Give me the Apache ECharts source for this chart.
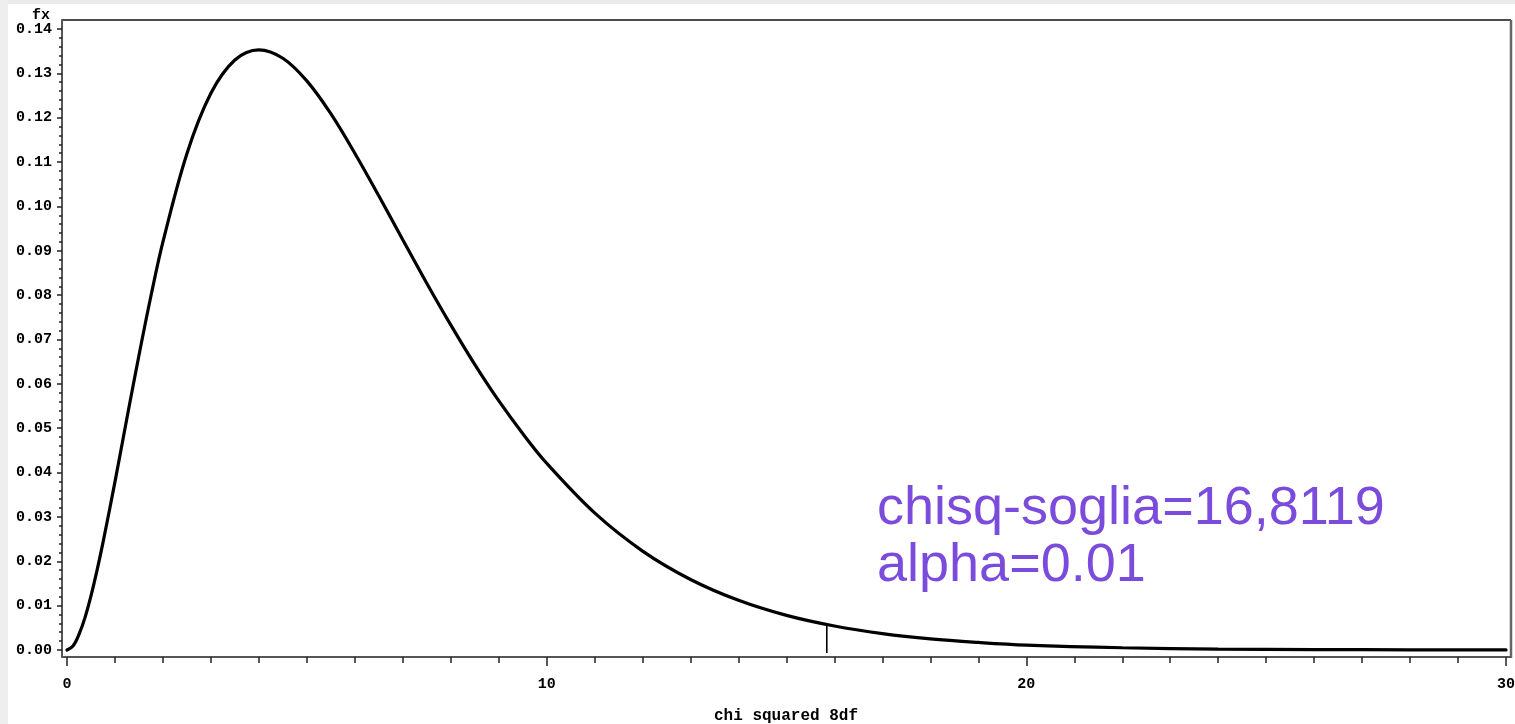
<!DOCTYPE html>
<html>
<head>
<meta charset="utf-8">
<script src="https://cdn.jsdelivr.net/npm/echarts@6/dist/echarts.min.js"></script>
<style>
html,body{margin:0;padding:0;background:#fff;}
#c{width:1515px;height:724px;}
</style>
</head>
<body>
<div id="c"></div>
<script>
// chi-square density curve
var xValues = [0, 0.125, 0.25, 0.375, 0.5, 0.625, 0.75, 1, 1.25, 1.5, 1.75, 2, 2.5, 3, 3.5, 4, 4.5, 5, 5.5, 6, 6.5, 7, 7.5, 8, 8.5, 9, 9.5, 10, 11, 12, 13, 14, 15, 16, 17, 18, 19, 20, 22, 24, 26, 28, 30];
var fxValues = [0, 0.0009, 0.0035, 0.0073, 0.0122, 0.0179, 0.0242, 0.0379, 0.0523, 0.0664, 0.0798, 0.0920, 0.1119, 0.1255, 0.1330, 0.1353, 0.1334, 0.1283, 0.1209, 0.1120, 0.1024, 0.0925, 0.0827, 0.0733, 0.0644, 0.0562, 0.0488, 0.0421, 0.0309, 0.0223, 0.0159, 0.0112, 0.0078, 0.0054, 0.0037, 0.0025, 0.0017, 0.0011, 0.0005, 0.0002, 0.0001, 0.00004, 0.00002];
var criticalX = [15.84, 15.84];
var criticalY = [-0.0007, 0.0058];
var xTickValues = [0, 10, 20, 30];
var xTickLabels = ['0', '10', '20', '30'];
var yTickValues = [0, 0.01, 0.02, 0.03, 0.04, 0.05, 0.06, 0.07, 0.08, 0.09, 0.10, 0.11, 0.12, 0.13, 0.14];
var yTickLabels = ['0.00','0.01','0.02','0.03','0.04','0.05','0.06','0.07','0.08','0.09','0.10','0.11','0.12','0.13','0.14'];
var annotationLines = ['chisq-soglia=16,8119', 'alpha=0.01'];
var xTitle = 'chi squared 8df';
var yTitle = 'fx';

var curve = xValues.map(function (x, i) { return [x, fxValues[i]]; });
var crit = criticalX.map(function (x, i) { return [x, criticalY[i]]; });

// minor tick positions (every 1 on x, every 0.002 on y)
var xMinor = [];
for (var i = 1; i < 30; i++) { if (i % 10 !== 0) xMinor.push(i); }
var yMinor = [];
for (var j = 1; j < 70; j++) { if (j % 5 !== 0) yMinor.push(+(j * 0.002).toFixed(3)); }

var monoFont = '"Liberation Mono", "DejaVu Sans Mono", monospace';
var X_MIN = -0.104, X_MAX = 30.083, Y_MIN = -0.00158, Y_MAX = 0.14203;

function labelFmt(values, labels) {
  return function (v) {
    for (var k = 0; k < values.length; k++) { if (Math.abs(values[k] - v) < 1e-6) return labels[k]; }
    return '';
  };
}

var chart = echarts.init(document.getElementById('c'), null, {renderer: 'canvas'});
chart.setOption({
  backgroundColor: '#ffffff',
  animation: false,
  grid: {left: 62, right: 5, top: 20, bottom: 67, containLabel: false, outerBoundsMode: 'none'},
  xAxis: [{
    type: 'value', min: X_MIN, max: X_MAX, position: 'bottom',
    name: xTitle, nameLocation: 'middle', nameGap: 51,
    nameTextStyle: {fontFamily: monoFont, fontWeight: 'bold', fontSize: 16, color: '#000'},
    axisLine: {show: true, onZero: false, lineStyle: {color: '#555', width: 2}},
    axisTick: {show: true, inside: false, length: 9, customValues: xTickValues, lineStyle: {color: '#222', width: 1.5}},
    splitLine: {show: false},
    axisLabel: {
      margin: 20, color: '#000', fontFamily: monoFont, fontWeight: 'bold', fontSize: 15,
      customValues: xTickValues, formatter: labelFmt(xTickValues, xTickLabels)
    }
  }, {
    type: 'value', min: X_MIN, max: X_MAX, position: 'bottom',
    axisLine: {show: false, onZero: false},
    axisTick: {show: true, inside: false, length: 6, customValues: xMinor, lineStyle: {color: '#222', width: 1.5}},
    axisLabel: {show: false},
    splitLine: {show: false}
  }],
  yAxis: [{
    type: 'value', min: Y_MIN, max: Y_MAX, position: 'left',
    axisLine: {show: true, onZero: false, lineStyle: {color: '#555', width: 2}},
    axisTick: {show: true, inside: false, length: 5, customValues: yTickValues, lineStyle: {color: '#222', width: 1.5}},
    splitLine: {show: false},
    axisLabel: {
      margin: 10, color: '#000', fontFamily: monoFont, fontWeight: 'bold', fontSize: 15,
      customValues: yTickValues, formatter: labelFmt(yTickValues, yTickLabels)
    }
  }, {
    type: 'value', min: Y_MIN, max: Y_MAX, position: 'left',
    axisLine: {show: false, onZero: false},
    axisTick: {show: true, inside: false, length: 3, customValues: yMinor, lineStyle: {color: '#222', width: 1.5}},
    axisLabel: {show: false},
    splitLine: {show: false}
  }],
  series: [
    {
      type: 'line', data: curve, smooth: 0.35, showSymbol: false, xAxisIndex: 0, yAxisIndex: 0,
      lineStyle: {color: '#000', width: 3.2, cap: 'round'}, silent: true
    },
    {
      type: 'line', data: crit, showSymbol: false, xAxisIndex: 0, yAxisIndex: 0,
      lineStyle: {color: '#000', width: 1.6}, silent: true
    }
  ],
  graphic: [
    {type: 'rect', shape: {x: 0, y: 0, width: 1515, height: 4}, style: {fill: '#ebebeb'}, z: -10},
    {type: 'rect', shape: {x: 0, y: 0, width: 8, height: 724}, style: {fill: '#eeeeee'}, z: -10},
    {type: 'line', shape: {x1: 62, y1: 20, x2: 1511, y2: 20}, style: {stroke: '#111', lineWidth: 1.5}},
    {type: 'line', shape: {x1: 1511, y1: 20, x2: 1511, y2: 658}, style: {stroke: '#666', lineWidth: 2.5}},
    {type: 'text', style: {text: yTitle, x: 41, y: 15, align: 'center', verticalAlign: 'middle',
      font: 'bold 15px ' + monoFont, fill: '#000'}},
    {type: 'text', style: {text: annotationLines[0], x: 877, y: 509, align: 'left', verticalAlign: 'middle',
      font: '54px "Liberation Sans", Arial, sans-serif', fill: '#7b4bdb'}},
    {type: 'text', style: {text: annotationLines[1], x: 877, y: 566, align: 'left', verticalAlign: 'middle',
      font: '54px "Liberation Sans", Arial, sans-serif', fill: '#7b4bdb'}}
  ]
});
</script>
</body>
</html>
